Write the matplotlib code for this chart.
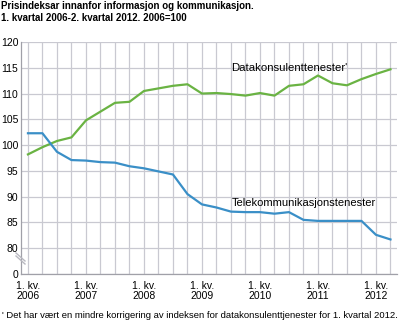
import matplotlib
matplotlib.use("Agg")
import matplotlib.pyplot as plt
from matplotlib.lines import Line2D

# quarterly index, 1. kv. 2006 - 2. kv. 2012 (2006=100)
quarters = list(range(26))
data_konsulent = [98.2, 99.6, 100.8, 101.5, 104.8, 106.5, 108.2, 108.4,
                  110.5, 111.0, 111.5, 111.8, 110.0, 110.1, 109.9, 109.6,
                  110.1, 109.6, 111.5, 111.8, 113.5, 112.0, 111.6, 112.8,
                  113.8, 114.7]
telekom = [102.3, 102.3, 98.7, 97.1, 97.0, 96.7, 96.6, 95.9,
           95.5, 94.9, 94.3, 90.5, 88.5, 87.9, 87.1, 87.0,
           87.0, 86.7, 87.0, 85.5, 85.3, 85.3, 85.3, 85.3,
           82.6, 81.7]
year_ticks = [0, 4, 8, 12, 16, 20, 24]
year_labels = ["1. kv.\n2006", "1. kv.\n2007", "1. kv.\n2008", "1. kv.\n2009",
               "1. kv.\n2010", "1. kv.\n2011", "1. kv.\n2012"]
y_ticks = [75, 80, 85, 90, 95, 100, 105, 110, 115, 120]
y_labels = ["0", "80", "85", "90", "95", "100", "105", "110", "115", "120"]

plt.rcParams['font.family'] = ['Liberation Sans', 'DejaVu Sans']

green = '#6ab343'
blue = '#3a8fc7'
grid_col = '#c9c9d1'

fig = plt.figure(figsize=(4.02, 3.24), dpi=100)
ax = fig.add_axes([21/402, 1 - 274/324, (397 - 21)/402, (274 - 42)/324])

ax.plot(quarters, data_konsulent, color=green, linewidth=1.6, solid_joinstyle='round')
ax.plot(quarters, telekom, color=blue, linewidth=1.6, solid_joinstyle='round')

ax.set_xlim(-0.48, 25.45)
ax.set_ylim(75, 120)

# vertical grid on every quarter
ax.set_xticks(quarters, minor=True)
ax.set_xticks(year_ticks)
ax.set_xticklabels(year_labels, fontsize=7.5, linespacing=1.0)
ax.set_yticks(y_ticks)
ax.set_yticklabels(y_labels, fontsize=7.5)
ax.grid(True, which='both', axis='x', color=grid_col, linewidth=0.9)
ax.grid(True, which='major', axis='y', color=grid_col, linewidth=0.9)
ax.set_axisbelow(True)
ax.tick_params(which='both', length=0)
ax.tick_params(axis='x', pad=5)
ax.tick_params(axis='y', pad=2)

for side in ['top', 'right']:
    ax.spines[side].set_visible(False)
for side in ['left', 'bottom']:
    ax.spines[side].set_color('#a0a0a8')
    ax.spines[side].set_linewidth(0.9)

# axis break marker
for dy in (0, 3):
    fig.add_artist(Line2D([16/402, 25/402], [1 - (253 + dy)/324, 1 - (261 + dy)/324],
                          color='#b8b8c0', linewidth=1.0))

ax.text(18.0, 115.0, "Datakonsulenttenester'", fontsize=8.2, ha='center', va='center')
ax.text(19.0, 88.7, "Telekommunikasjonstenester", fontsize=8.0, ha='center', va='center')

fig.text(1/402, 1 - 1/324, "Prisindeksar innanfor informasjon og kommunikasjon.\n"
         "1. kvartal 2006-2. kvartal 2012. 2006=100",
         fontsize=7.0, fontweight='bold', ha='left', va='top', linespacing=1.3)
fig.text(2/402, 1 - 316/324,
         "' Det har vært en mindre korrigering av indeksen for datakonsulenttjenester for 1. kvartal 2012.",
         fontsize=6.8, ha='left', va='center')

fig.savefig("out.png", dpi=100)
